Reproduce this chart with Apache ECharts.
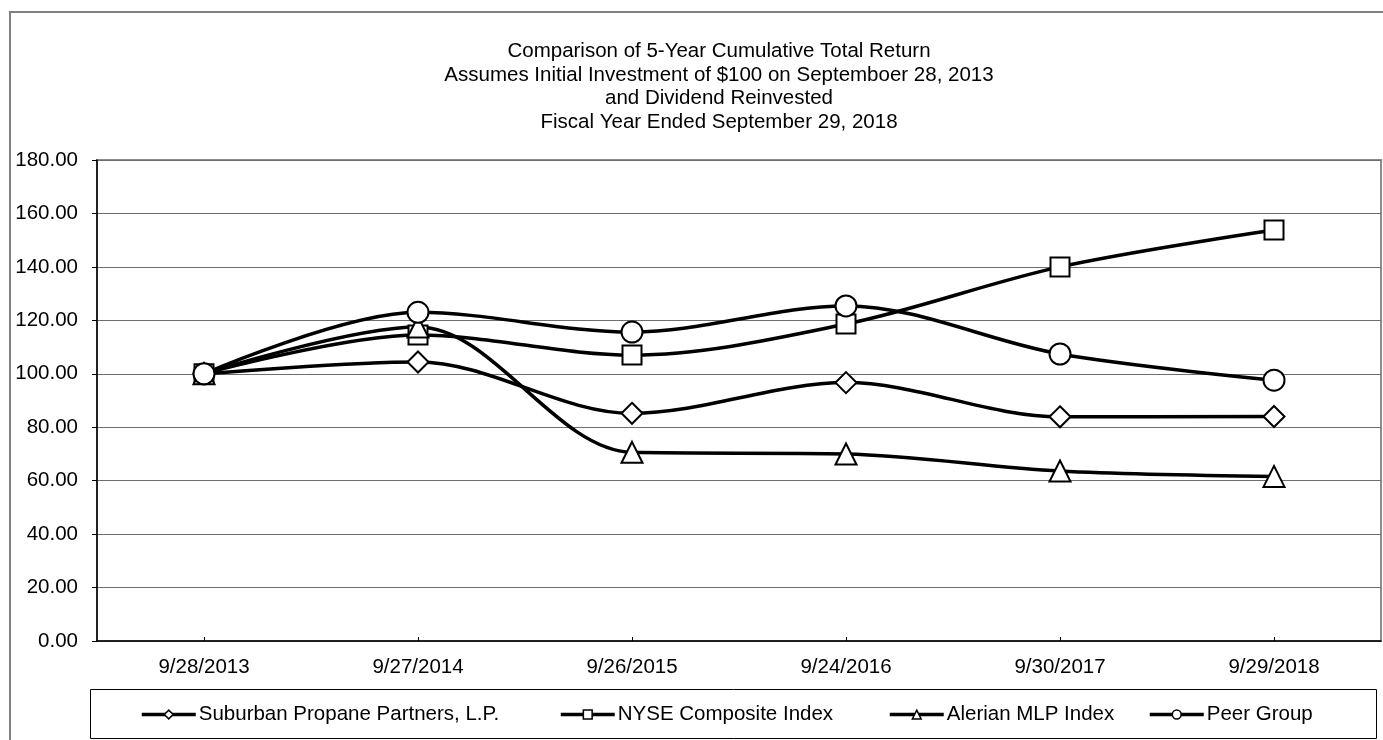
<!DOCTYPE html>
<html>
<head>
<meta charset="utf-8">
<script src="https://cdn.jsdelivr.net/npm/echarts@6/dist/echarts.min.js"></script>
<style>
html,body{margin:0;padding:0;background:#fff;}
#chart{width:1383px;height:740px;}
</style>
</head>
<body>
<div id="chart"></div>
<script>
const categories = ['9/28/2013','9/27/2014','9/26/2015','9/24/2016','9/30/2017','9/29/2018'];
const suburban = [100.00, 104.4, 85.2, 96.7, 83.9, 84.0];
const nyse = [100.00, 114.5, 107.0, 118.6, 140.0, 153.8];
const alerian = [100.00, 117.5, 70.6, 70.0, 63.6, 61.6];
const peer = [100.00, 123.0, 115.6, 125.4, 107.4, 97.6];
const seriesNames = ['Suburban Propane Partners, L.P.', 'NYSE Composite Index', 'Alerian MLP Index', 'Peer Group'];
const titleLines = [
  'Comparison of 5-Year Cumulative Total Return',
  'Assumes Initial Investment of $100 on Septemboer 28, 2013',
  'and Dividend Reinvested',
  'Fiscal Year Ended September 29, 2018'
];

const FONT = 'Liberation Sans, Arial, sans-serif';
const chart = echarts.init(document.getElementById('chart'), null, {renderer: 'canvas'});

function mk(name, data, symbol, size) {
  return {
    name: name, type: 'line', data: data, smooth: 0.33,
    symbol: symbol, symbolSize: size, showSymbol: true,
    lineStyle: {color: '#000', width: 3.5},
    itemStyle: {color: '#fff', borderColor: '#000', borderWidth: 2},
    emphasis: {disabled: true},
    animation: false
  };
}

const legendLefts = [140, 559, 888, 1148];

const option = {
  animation: false,
  graphic: [
    {type: 'rect', shape: {x: 10, y: 12, width: 1400, height: 760},
     style: {fill: 'none', stroke: '#808080', lineWidth: 2}, silent: true, z: -10},
    {type: 'rect', shape: {x: 90.5, y: 689.5, width: 1286, height: 49},
     style: {fill: '#fff', stroke: '#000', lineWidth: 1}, silent: true, z: -5},
    {type: 'text', x: 719, y: 40, silent: true,
     style: {text: titleLines.join('\n'), fontFamily: FONT, fontSize: 20.5, lineHeight: 23.5,
             fill: '#000', textAlign: 'center', textVerticalAlign: 'top'}}
  ],
  grid: {left: 97, top: 160, right: 2, bottom: 99, show: true,
         borderColor: '#8c8c8c', borderWidth: 2, backgroundColor: 'transparent'},
  xAxis: {
    type: 'category', data: categories, boundaryGap: true,
    axisLine: {lineStyle: {color: '#000', width: 1.5}},
    axisTick: {show: true, inside: true, alignWithLabel: true, length: 4, lineStyle: {color: '#000'}},
    axisLabel: {color: '#000', fontFamily: FONT, fontSize: 20.5, margin: 16},
    splitLine: {show: false}
  },
  yAxis: {
    type: 'value', min: 0, max: 180, interval: 20,
    axisLine: {show: true, lineStyle: {color: '#000', width: 1.5}},
    axisTick: {show: true, inside: false, length: 5, lineStyle: {color: '#000'}},
    axisLabel: {color: '#000', fontFamily: FONT, fontSize: 20.5, margin: 19,
                formatter: function (v) { return v.toFixed(2); }},
    splitLine: {show: true, lineStyle: {color: '#6e6e6e', width: 1}}
  },
  legend: seriesNames.map(function (n, i) {
    return {
      data: [n], left: legendLefts[i], top: 704, orient: 'horizontal', padding: 0,
      itemWidth: 54, itemHeight: 11, itemGap: 0, selectedMode: false,
      lineStyle: {width: 3.5, color: '#000'},
      itemStyle: {borderWidth: 1.5, borderColor: '#000', color: '#fff'},
      textStyle: {color: '#000', fontFamily: FONT, fontSize: 20.5, padding: [0, 0, 0, -2]}
    };
  }),
  series: [
    mk(seriesNames[0], suburban, 'diamond', 21),
    mk(seriesNames[1], nyse, 'rect', 19),
    mk(seriesNames[2], alerian, 'triangle', 21),
    mk(seriesNames[3], peer, 'circle', 21)
  ]
};
chart.setOption(option);
</script>
</body>
</html>
